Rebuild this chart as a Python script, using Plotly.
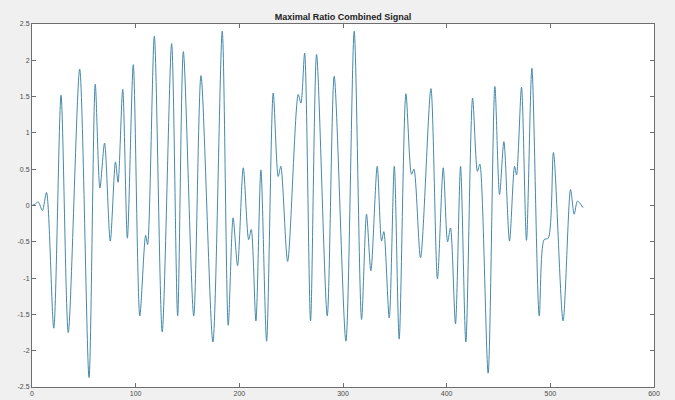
import plotly.graph_objects as go

# Sample index (x) and amplitude (y) at extrema
sample_idx = [0, 3, 6, 10, 14, 21, 28, 35, 46, 55, 61, 65.5, 70, 75.5, 80.5, 83, 87.5, 92,
              97.7, 104, 109.6, 111.5, 118, 125.6, 134.7, 140.5, 146, 156, 163, 174.5, 183.5,
              189.3, 194, 198.3, 203.8, 209, 211.5, 216, 220.8, 226.3, 232.7, 237.5, 240,
              246.6, 256.8, 259.4, 263, 268.7, 274.5, 284.8, 291.5, 302.8, 310.8, 317.9,
              322.7, 326.9, 333, 337.2, 339.4, 344.6, 349.5, 354.2, 360.7, 366.1, 368.4,
              374.8, 384.8, 391.1, 396.7, 400.9, 403.7, 408.5, 413.4, 418.5, 425, 429.7, 432,
              440, 446.5, 451, 455.2, 460.6, 465.5, 467.4, 472.2, 477, 482.2, 489.3, 494, 498,
              503, 512.3, 519.5, 523, 526.2, 531.5]
amplitude = [0, 0.02, 0.05, -0.07, 0.18, -1.69, 1.52, -1.75, 1.88, -2.37, 1.67, 0.24, 0.86,
             -0.49, 0.60, 0.32, 1.60, -0.45, 1.94, -1.52, -0.41, -0.54, 2.33, -1.74, 2.23,
             -1.52, 2.12, -1.52, 1.79, -1.88, 2.40, -1.65, -0.17, -0.83, 0.52, -0.47, -0.33,
             -1.59, 0.49, -1.87, 1.55, 0.40, 0.54, -0.77, 1.53, 1.41, 2.10, -1.59, 2.08,
             -1.52, 1.78, -1.87, 2.40, -1.57, -0.12, -0.90, 0.54, -0.49, -0.36, -1.55, 0.54,
             -1.84, 1.54, 0.43, 0.50, -0.72, 1.61, -1.01, 0.52, -0.50, -0.31, -1.63, 0.54,
             -1.88, 1.48, 0.47, 0.57, -2.31, 1.64, 0.15, 0.88, -0.49, 0.54, 0.42, 1.63, -0.48,
             1.89, -1.52, -0.47, -0.45, 0.73, -1.59, 0.22, -0.12, 0.06, -0.03]

x_ticks = [0, 100, 200, 300, 400, 500, 600]
x_tick_labels = ["0", "100", "200", "300", "400", "500", "600"]
y_ticks = [-2.5, -2, -1.5, -1, -0.5, 0, 0.5, 1, 1.5, 2, 2.5]
y_tick_labels = ["-2.5", "-2", "-1.5", "-1", "-0.5", "0", "0.5", "1", "1.5", "2", "2.5"]

fig = go.Figure()
fig.add_trace(go.Scatter(
    x=sample_idx, y=amplitude, mode="lines",
    line=dict(color="#4689aa", width=1, shape="spline", smoothing=0.8),
    showlegend=False, hoverinfo="skip",
))

axis_common = dict(
    showgrid=False, zeroline=False, showline=True, mirror="ticks",
    linecolor="#6e6e6e", linewidth=1, ticks="inside", ticklen=4, automargin=False,
    tickcolor="#6e6e6e", tickfont=dict(family="Liberation Sans, Arial", size=7, color="#4a4a4a"),
)

fig.update_layout(
    width=675, height=400,
    margin=dict(l=32, r=21, t=24, b=13),
    paper_bgcolor="#f0f0f0", plot_bgcolor="#ffffff",
    title=dict(text="<b>Maximal Ratio Combined Signal</b>", x=0.5, xref="paper",
               y=1, yref="paper", yanchor="bottom", pad=dict(b=4), automargin=False,
               font=dict(family="Liberation Sans, Arial", size=9, color="#222222")),
    xaxis=dict(range=[0, 600], tickvals=x_ticks, ticktext=x_tick_labels, ticklabelstandoff=0,
               **axis_common),
    yaxis=dict(range=[-2.5, 2.5], tickvals=y_ticks, ticktext=y_tick_labels, **axis_common),
)

fig.write_html("out.html")
